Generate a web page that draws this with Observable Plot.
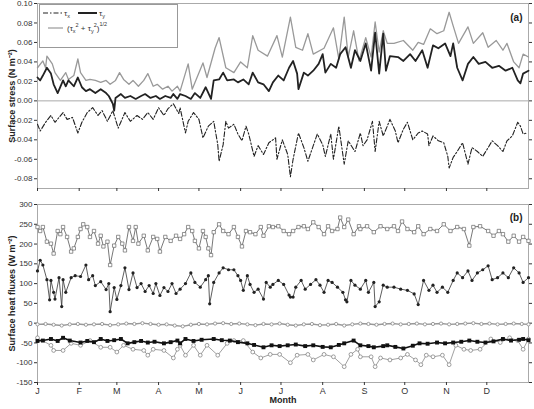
<!DOCTYPE html>
<html><head><meta charset="utf-8">
<script src="https://cdn.jsdelivr.net/npm/d3@7"></script>
<script src="https://cdn.jsdelivr.net/npm/@observablehq/plot@0.6"></script>
<style>
body{margin:0;background:#fff;font-family:"Liberation Sans",Arial,sans-serif;}
#wrap{position:relative;width:534px;height:409px;overflow:hidden;background:#fff}
#pa,#pb{position:absolute;left:0}
#pa{top:0}#pb{top:195px}
#leg{position:absolute;left:39px;top:4px}
</style></head><body>
<div id="wrap"><div id="pa"></div><div id="pb"></div>
<svg id="leg" width="140" height="45" font-family="Liberation Sans, Arial, sans-serif" font-size="8" fill="#333">
<rect x="0.5" y="0.5" width="138" height="43" fill="#fff" stroke="#999"/>
<line x1="4" y1="9" x2="23" y2="9" stroke="#222" stroke-width="1.2" stroke-dasharray="5,2,1.5,2"/>
<text x="25" y="12">τ<tspan font-size="5.5" dy="2">x</tspan></text>
<line x1="39" y1="9" x2="58" y2="9" stroke="#222" stroke-width="2"/>
<text x="60" y="12">τ<tspan font-size="5.5" dy="2">y</tspan></text>
<line x1="9" y1="24" x2="24" y2="24" stroke="#999" stroke-width="1.2"/>
<text x="28" y="27">(τ<tspan font-size="5.5" dy="2">x</tspan><tspan font-size="5.5" dy="-6">2</tspan><tspan dy="4"> + τ</tspan><tspan font-size="5.5" dy="2">y</tspan><tspan font-size="5.5" dy="-6">2</tspan><tspan dy="4">)</tspan><tspan font-size="5.5" dy="-5">1/2</tspan></text>
</svg>
</div>
<script>
const monthLabels = ["J","F","M","A","M","J","J","A","S","O","N","D"];
const monthStarts = [0,31,59,90,120,151,181,212,243,273,304,334];
const stressTicks = [-0.08,-0.06,-0.04,-0.02,0,0.02,0.04,0.06,0.08,0.10];
const fluxTicks = [-150,-100,-50,0,50,100,150,200,250,300];

// Panel (a): [day of year, N m-2]
const tauMag = [[0,0.034],[4,0.041],[6,0.034],[7,0.046],[11,0.038],[13,0.029],[17,0.021],[21,0.029],[23,0.022],[27,0.026],[30,0.043],[32,0.029],[36,0.021],[39,0.022],[43,0.021],[47,0.019],[51,0.021],[54,0.017],[58,0.021],[61,0.029],[64,0.022],[68,0.017],[71,0.021],[75,0.015],[79,0.021],[82,0.028],[86,0.015],[89,0.017],[93,0.012],[97,0.015],[100,0.010],[104,0.015],[106,0.010],[112,0.038],[115,0.012],[123,0.039],[126,0.024],[132,0.054],[135,0.065],[140,0.034],[146,0.029],[151,0.040],[156,0.034],[160,0.067],[164,0.052],[171,0.046],[178,0.067],[182,0.045],[188,0.086],[192,0.055],[197,0.052],[201,0.069],[205,0.048],[213,0.054],[220,0.075],[224,0.043],[228,0.086],[231,0.045],[235,0.072],[239,0.041],[244,0.065],[248,0.045],[251,0.081],[254,0.050],[257,0.072],[260,0.059],[265,0.059],[272,0.062],[279,0.052],[283,0.060],[287,0.058],[292,0.074],[297,0.069],[302,0.072],[306,0.091],[309,0.077],[313,0.059],[320,0.076],[324,0.059],[331,0.070],[335,0.055],[341,0.062],[346,0.052],[349,0.059],[354,0.040],[358,0.034],[361,0.048],[365,0.045]];
const tauY = [[0,0.024],[2,0.021],[4,0.026],[7,0.034],[10,0.028],[12,0.017],[15,0.008],[19,0.021],[21,0.015],[23,0.021],[27,0.015],[30,0.024],[33,0.014],[36,0.010],[39,0.012],[43,0.008],[47,0.012],[51,0.008],[53,0.005],[56,-0.003],[57,-0.010],[58,0.003],[62,0.007],[65,0.003],[69,0.005],[73,0.002],[77,0.005],[80,0.007],[84,0.003],[88,0.005],[91,0.002],[95,0.005],[99,0.003],[101,0.007],[104,0.002],[106,0.007],[110,0.005],[114,0.002],[117,0.008],[121,0.003],[125,0.014],[129,0.002],[131,0.021],[135,0.022],[138,0.029],[141,0.021],[146,0.022],[149,0.019],[153,0.022],[157,0.017],[160,0.029],[164,0.019],[168,0.017],[172,0.010],[175,0.019],[179,0.026],[183,0.021],[187,0.034],[190,0.041],[193,0.028],[194,0.012],[198,0.029],[201,0.026],[205,0.031],[209,0.038],[212,0.048],[214,0.029],[218,0.038],[222,0.034],[225,0.048],[229,0.055],[233,0.034],[236,0.052],[240,0.041],[244,0.059],[248,0.031],[251,0.070],[254,0.028],[257,0.069],[259,0.031],[262,0.046],[268,0.045],[272,0.041],[277,0.048],[281,0.041],[286,0.052],[290,0.034],[294,0.057],[298,0.054],[303,0.059],[307,0.046],[309,0.059],[312,0.034],[316,0.021],[320,0.038],[324,0.045],[328,0.038],[333,0.040],[338,0.034],[343,0.036],[348,0.031],[353,0.034],[357,0.021],[359,0.018],[361,0.028],[365,0.031]];
const tauX = [[0,-0.024],[2,-0.031],[6,-0.022],[10,-0.015],[13,-0.022],[19,-0.012],[22,-0.019],[26,-0.017],[30,-0.033],[33,-0.022],[37,-0.012],[41,-0.007],[45,-0.015],[48,-0.010],[52,-0.021],[56,-0.010],[60,-0.028],[65,-0.012],[69,-0.021],[74,-0.015],[78,-0.019],[82,-0.012],[86,-0.019],[90,-0.007],[94,-0.015],[97,-0.008],[101,-0.003],[105,-0.013],[106,-0.007],[110,-0.033],[112,-0.021],[116,-0.012],[120,-0.019],[123,-0.038],[127,-0.026],[131,-0.021],[134,-0.045],[135,-0.062],[138,-0.045],[140,-0.021],[142,-0.028],[146,-0.024],[149,-0.034],[152,-0.041],[155,-0.026],[157,-0.034],[161,-0.057],[164,-0.046],[168,-0.055],[172,-0.043],[177,-0.038],[178,-0.060],[182,-0.040],[186,-0.055],[188,-0.078],[190,-0.060],[194,-0.033],[198,-0.048],[201,-0.062],[205,-0.046],[208,-0.034],[212,-0.045],[214,-0.057],[218,-0.034],[220,-0.060],[224,-0.026],[228,-0.065],[231,-0.041],[236,-0.052],[240,-0.033],[242,-0.046],[245,-0.040],[249,-0.021],[251,-0.052],[254,-0.021],[257,-0.036],[260,-0.026],[262,-0.019],[266,-0.031],[268,-0.043],[272,-0.029],[275,-0.022],[279,-0.040],[283,-0.033],[286,-0.031],[290,-0.034],[291,-0.046],[294,-0.036],[298,-0.041],[302,-0.043],[305,-0.057],[306,-0.069],[309,-0.058],[312,-0.052],[316,-0.043],[320,-0.065],[323,-0.048],[327,-0.052],[331,-0.057],[335,-0.048],[338,-0.041],[342,-0.046],[346,-0.052],[349,-0.041],[353,-0.036],[357,-0.022],[359,-0.026],[361,-0.034],[364,-0.033]];

// Panel (b): [day of year, W m-2]
const fluxSquares = [[0,243],[2,233],[4,243],[7,206],[10,201],[12,176],[15,233],[17,225],[19,243],[22,218],[25,181],[27,189],[30,218],[32,238],[34,250],[37,243],[39,218],[42,233],[45,201],[47,221],[49,194],[52,206],[54,147],[57,196],[60,218],[63,201],[65,184],[68,243],[71,208],[73,243],[75,201],[79,221],[82,184],[86,218],[89,213],[91,181],[95,218],[99,208],[103,221],[106,213],[109,225],[112,243],[115,233],[117,208],[120,189],[123,233],[125,218],[127,189],[129,172],[131,230],[135,250],[138,233],[142,225],[146,243],[149,218],[152,194],[155,233],[158,230],[162,225],[166,243],[168,221],[172,245],[175,243],[179,245],[183,233],[187,225],[190,233],[194,243],[198,245],[201,238],[205,255],[209,243],[213,225],[216,245],[219,233],[223,238],[225,267],[228,243],[231,262],[235,225],[239,245],[240,238],[245,245],[250,230],[255,245],[260,238],[265,245],[268,233],[271,257],[275,238],[280,230],[283,245],[287,225],[292,238],[297,233],[302,250],[307,233],[312,243],[317,238],[321,196],[324,243],[329,245],[335,233],[339,221],[343,233],[346,225],[350,206],[354,221],[358,206],[361,218],[365,208]];
const fluxDots = [[0,132],[2,159],[4,147],[7,110],[9,59],[10,108],[12,78],[13,61],[16,115],[18,42],[19,110],[21,78],[25,115],[28,120],[32,118],[36,147],[38,110],[41,120],[43,95],[47,105],[51,85],[53,100],[54,29],[57,90],[59,60],[62,95],[65,140],[68,85],[71,127],[74,90],[77,100],[80,80],[83,95],[86,75],[88,100],[91,70],[94,90],[97,80],[100,100],[103,75],[106,86],[110,100],[114,127],[117,103],[121,91],[125,110],[127,120],[128,49],[131,103],[135,127],[138,140],[142,135],[146,135],[149,120],[151,108],[153,83],[156,120],[158,98],[161,78],[164,86],[168,61],[170,103],[173,91],[175,98],[179,108],[183,98],[187,71],[188,66],[190,66],[192,91],[196,108],[199,86],[203,98],[207,110],[210,96],[213,78],[216,108],[219,103],[223,91],[227,78],[229,59],[230,54],[233,108],[236,96],[240,86],[244,108],[246,78],[250,103],[251,42],[254,54],[257,96],[260,91],[265,91],[270,86],[275,83],[280,74],[283,47],[287,108],[291,83],[294,96],[297,78],[301,91],[305,78],[309,108],[312,127],[316,115],[320,132],[323,108],[327,127],[331,135],[335,145],[338,110],[342,115],[346,127],[350,115],[354,140],[358,127],[361,103],[365,115]];
const fluxNearZero = [[0,-3],[6,-2],[12,-4],[18,-6],[24,-3],[30,-2],[36,-4],[42,-3],[48,-2],[54,-5],[60,-3],[66,-1],[72,-2],[78,0],[84,-2],[90,-4],[96,-3],[102,-6],[108,-8],[114,-4],[120,-2],[126,-3],[132,-1],[138,0],[144,-2],[150,-1],[156,-3],[162,-5],[168,-2],[174,-3],[180,-1],[186,-4],[192,-6],[198,-3],[204,-2],[210,-5],[216,-4],[222,-2],[228,-6],[234,-3],[240,-1],[246,-2],[252,-4],[258,-2],[264,-1],[270,-3],[276,-2],[282,-1],[288,-3],[294,-2],[300,-1],[306,-3],[312,-2],[318,-1],[324,0],[330,-2],[336,-1],[342,-3],[348,-2],[354,-1],[360,-2],[365,-3]];
const fluxFilledSquares = [[0,-45],[4,-44],[10,-40],[15,-45],[19,-37],[24,-44],[32,-49],[37,-45],[42,-48],[47,-40],[52,-45],[57,-43],[62,-40],[67,-51],[72,-48],[77,-45],[82,-49],[87,-47],[94,-51],[99,-48],[104,-44],[106,-51],[110,-40],[116,-45],[122,-42],[131,-40],[137,-43],[143,-44],[149,-48],[156,-51],[161,-55],[168,-61],[174,-56],[180,-58],[186,-56],[192,-54],[199,-58],[205,-56],[212,-60],[218,-61],[224,-55],[228,-51],[235,-44],[240,-56],[246,-58],[250,-61],[257,-58],[260,-56],[266,-60],[272,-64],[279,-57],[284,-51],[290,-52],[297,-49],[303,-51],[309,-49],[315,-47],[321,-44],[327,-47],[333,-49],[339,-46],[346,-40],[352,-44],[358,-42],[361,-40],[365,-43]];
const fluxOpenCircles = [[0,-37],[10,-56],[12,-69],[19,-69],[25,-51],[32,-56],[39,-44],[47,-61],[54,-61],[59,-73],[64,-56],[71,-66],[79,-69],[82,-81],[86,-66],[94,-69],[101,-88],[104,-66],[106,-56],[110,-81],[116,-56],[121,-81],[126,-56],[134,-81],[141,-51],[146,-44],[153,-44],[160,-73],[166,-88],[173,-79],[180,-79],[188,-100],[193,-81],[201,-79],[205,-93],[213,-79],[220,-85],[228,-110],[233,-79],[238,-66],[240,-85],[248,-85],[251,-110],[255,-88],[262,-93],[270,-88],[275,-79],[281,-93],[285,-105],[289,-81],[294,-85],[301,-81],[306,-105],[311,-56],[317,-66],[322,-69],[329,-66],[337,-40],[344,-49],[351,-37],[357,-44],[361,-66],[365,-40]];

const X = d => d[0], Y = d => d[1];
const font = '"Liberation Sans", Arial, sans-serif';
const baseStyle = {fontFamily: font, fontSize: "8px", color: "#333", background: "transparent"};

const pa = Plot.plot({
  width: 534, height: 195, marginLeft: 37, marginRight: 6, marginTop: 3, marginBottom: 7,
  style: baseStyle,
  x: {domain: [0, 365]},
  y: {domain: [-0.09, 0.10]},
  marks: [
    Plot.frame({stroke: "#aaa"}),
    Plot.ruleY([0], {stroke: "#aaa"}),
    Plot.axisY({ticks: stressTicks, tickFormat: d => d.toFixed(2), tickSize: 3, tickPadding: 2, label: null}),
    Plot.axisY({anchor: "right", ticks: stressTicks, tickFormat: () => "", tickSize: 3, label: null}),
    Plot.axisX({ticks: monthStarts, tickFormat: () => "", tickSize: 3, label: null}),
    Plot.line(tauX, {x: X, y: Y, stroke: "#222", strokeWidth: 1.1, strokeDasharray: "5,2,1.5,2"}),
    Plot.line(tauMag, {x: X, y: Y, stroke: "#999", strokeWidth: 1.3}),
    Plot.line(tauY, {x: X, y: Y, stroke: "#222", strokeWidth: 1.8}),
    Plot.text(["Surface stress (N m⁻²)"], {frameAnchor: "left", textAnchor: "middle", dx: -25, rotate: -90, fontWeight: "bold", fontSize: 9, fill: "#222"}),
    Plot.text(["(a)"], {frameAnchor: "top-right", dx: -6, dy: 10, fontWeight: "bold", fontSize: 10, fill: "#222"})
  ]
});
document.getElementById("pa").appendChild(pa);

const pb = Plot.plot({
  width: 534, height: 214, marginLeft: 37, marginRight: 6, marginTop: 9, marginBottom: 27,
  style: baseStyle,
  x: {domain: [0, 365]},
  y: {domain: [-150, 300]},
  marks: [
    Plot.frame({stroke: "#aaa"}),
    Plot.axisY({ticks: fluxTicks, tickFormat: d => String(d), tickSize: 3, tickPadding: 2, label: null}),
    Plot.axisY({anchor: "right", ticks: fluxTicks, tickFormat: () => "", tickSize: 3, label: null}),
    Plot.axisX({ticks: monthStarts, tickFormat: (d, i) => monthLabels[i], tickSize: 3, tickPadding: 2, label: null, fontSize: 9}),
    Plot.line(fluxNearZero, {x: X, y: Y, stroke: "#999", strokeWidth: 1.4}),
    Plot.dot(fluxNearZero, {x: X, y: Y, r: 1.6, fill: "#fff", stroke: "#888", strokeWidth: 0.8}),
    Plot.line(fluxOpenCircles, {x: X, y: Y, stroke: "#888", strokeWidth: 0.8}),
    Plot.dot(fluxOpenCircles, {x: X, y: Y, r: 1.9, fill: "#fff", stroke: "#777", strokeWidth: 0.7}),
    Plot.line(fluxFilledSquares, {x: X, y: Y, stroke: "#111", strokeWidth: 1.6}),
    Plot.dot(fluxFilledSquares, {x: X, y: Y, symbol: "square", r: 2.2, fill: "#111"}),
    Plot.line(fluxSquares, {x: X, y: Y, stroke: "#555", strokeWidth: 0.8}),
    Plot.dot(fluxSquares, {x: X, y: Y, symbol: "square", r: 1.9, fill: "#fff", stroke: "#666", strokeWidth: 0.7}),
    Plot.line(fluxDots, {x: X, y: Y, stroke: "#333", strokeWidth: 0.8}),
    Plot.dot(fluxDots, {x: X, y: Y, r: 1.6, fill: "#222"}),
    Plot.text(["Surface heat fluxes (W m⁻²)"], {frameAnchor: "left", textAnchor: "middle", dx: -25, rotate: -90, fontWeight: "bold", fontSize: 9, fill: "#222"}),
    Plot.text(["(b)"], {frameAnchor: "top-right", dx: -6, dy: 9, fontWeight: "bold", fontSize: 10, fill: "#222"}),
    Plot.text(["Month"], {frameAnchor: "bottom", dy: 20, fontWeight: "bold", fontSize: 9, fill: "#222"})
  ]
});
document.getElementById("pb").appendChild(pb);
</script>
</body></html>
